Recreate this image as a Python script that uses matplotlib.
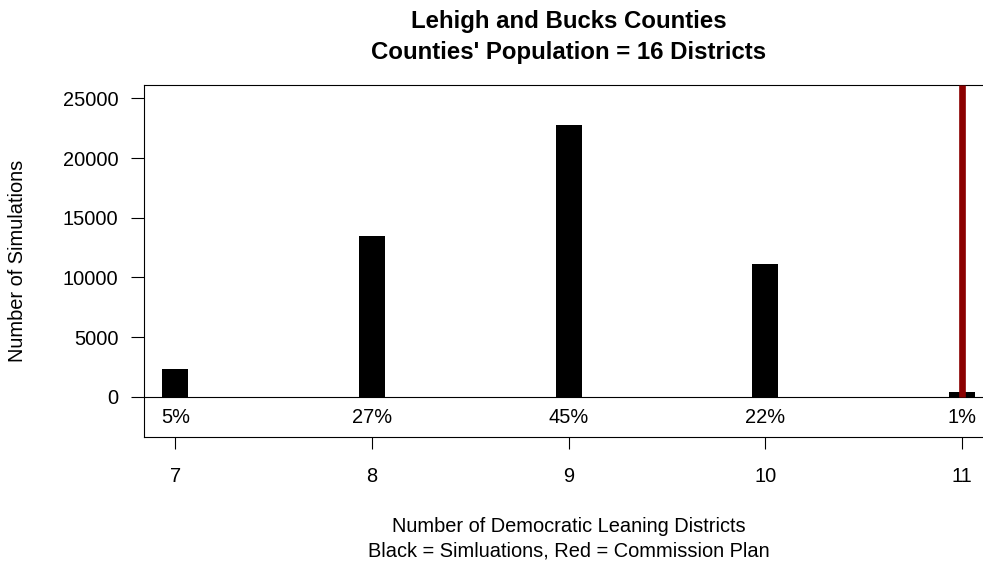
import matplotlib
matplotlib.use("Agg")
import matplotlib.pyplot as plt

# simulated counts per number of Democratic-leaning districts
districts = [7, 8, 9, 10, 11]
sim_counts = [2300, 13490, 22760, 11140, 370]
pct_labels = ["5%", "27%", "45%", "22%", "1%"]
commission_plan = 11

y_ticks = [0, 5000, 10000, 15000, 20000, 25000]

plt.rcParams['font.family'] = ['Liberation Sans', 'DejaVu Sans']

fig = plt.figure(figsize=(9.83, 5.63), dpi=100)
ax = fig.add_axes([144 / 983, 1 - 437 / 563, (993.5 - 144) / 983, (437 - 85) / 563])

ylo, yhi = -3377, 26118
ax.set_xlim(6.84, 11.16)
ax.set_ylim(ylo, yhi)

ax.bar(districts, sim_counts, width=0.132, color='black', edgecolor='none', zorder=2)
ax.axhline(0, color='black', lw=0.8, zorder=1)
ax.axvline(commission_plan, ymin=(0 - ylo) / (yhi - ylo), ymax=1,
           color='#8B0000', lw=4.8, solid_capstyle='butt', zorder=3)

for x, lab in zip(districts, pct_labels):
    ax.text(x, -2178, lab, ha='center', va='baseline', fontsize=14.4)

ax.set_xticks(districts)
ax.set_xticklabels([str(d) for d in districts])
ax.set_yticks(y_ticks)
ax.set_yticklabels([str(t) for t in y_ticks])
ax.tick_params(axis='x', length=8.6, width=0.8, pad=13, labelsize=14.4)
ax.tick_params(axis='y', length=9.2, width=0.8, pad=9.2, labelsize=14.4)
for s in ax.spines.values():
    s.set_linewidth(0.8)

fig.text(568.5 / 983, 1 - 28.3 / 563, "Lehigh and Bucks Counties",
         ha='center', va='baseline', fontsize=17.3, fontweight='bold')
fig.text(568.5 / 983, 1 - 59.3 / 563, "Counties' Population = 16 Districts",
         ha='center', va='baseline', fontsize=17.3, fontweight='bold')

fig.text(18 / 983, 1 - 261 / 563, "Number of Simulations",
         ha='center', va='center', rotation=90, fontsize=14.4)

fig.text(568.5 / 983, 1 - 531.7 / 563, "Number of Democratic Leaning Districts",
         ha='center', va='baseline', fontsize=14.4)
fig.text(568.5 / 983, 1 - 556.7 / 563, "Black = Simluations, Red = Commission Plan",
         ha='center', va='baseline', fontsize=14.4)

fig.savefig("out.png", dpi=100)
